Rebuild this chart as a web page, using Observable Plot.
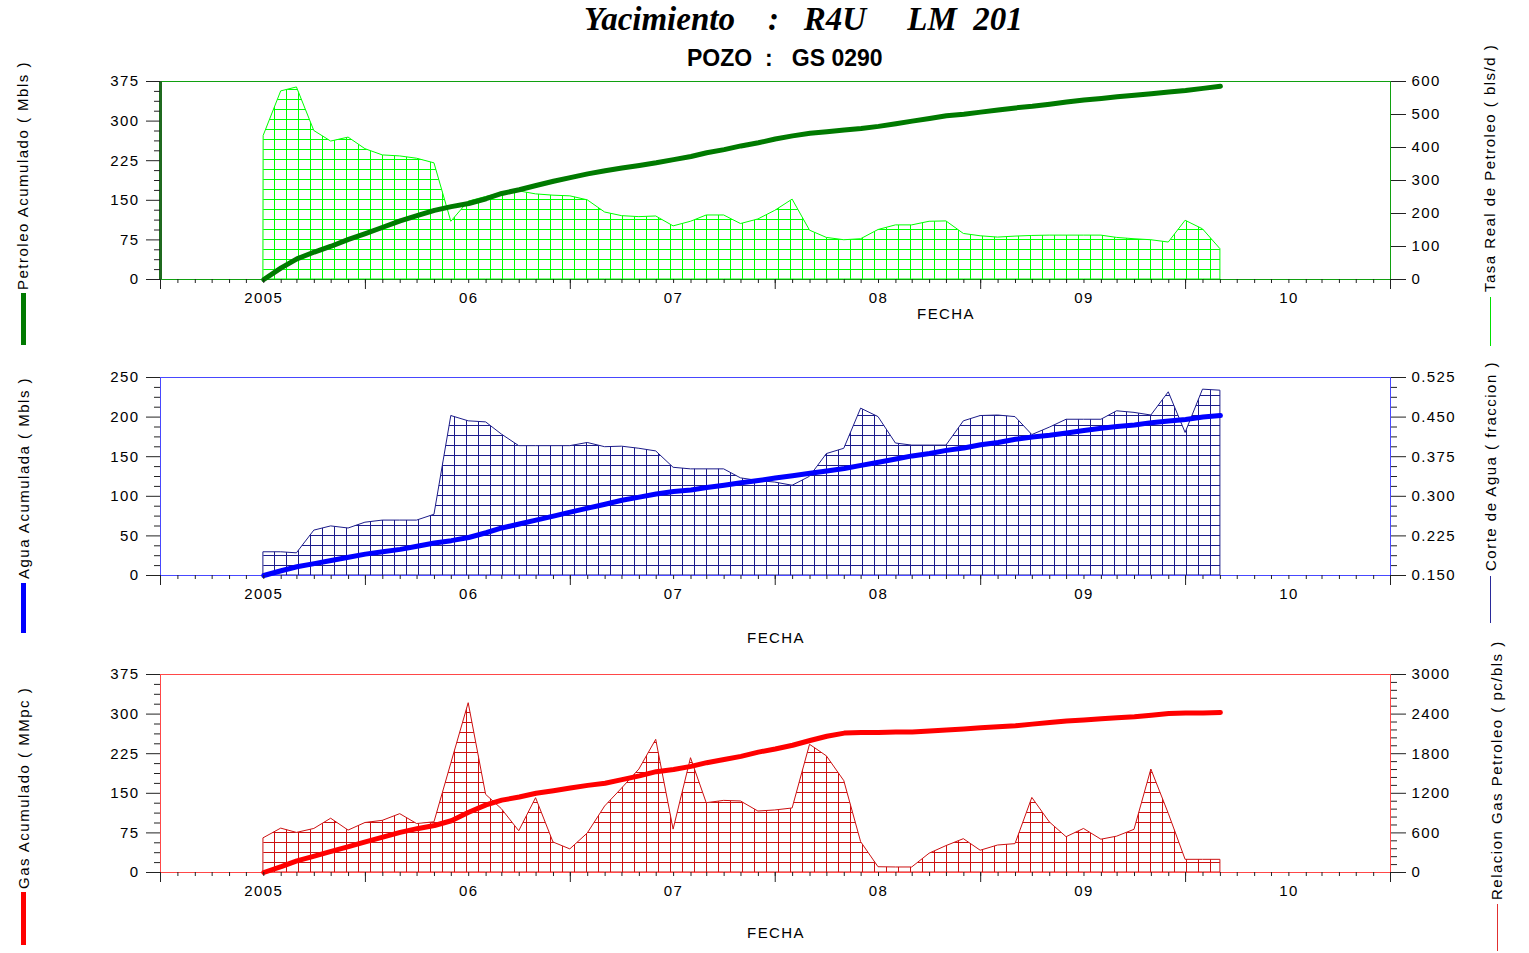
<!DOCTYPE html>
<html>
<head>
<meta charset="utf-8">
<script src="https://cdn.jsdelivr.net/npm/d3@7"></script>
<script src="https://cdn.jsdelivr.net/npm/@observablehq/plot@0.6"></script>
<style>
  body { margin: 0; background: #fff; }
  #root { position: relative; width: 1529px; height: 953px; overflow: hidden; font-family: "Liberation Sans", Arial, sans-serif; }
  .abs { position: absolute; white-space: pre; line-height: 1; }
  .rot { position: absolute; white-space: pre; transform: rotate(-90deg); transform-origin: 0 0; font-size: 15px; line-height: 16px; height: 16px; letter-spacing: 1.5px; color: #000; }
  .panel { position: absolute; left: 0; }
</style>
</head>
<body>
<div id="root"></div>
<script>
// ---------------- DATA ----------------
const titulo = "Yacimiento    :   R4U     LM  201";
const subtitulo = "POZO  :   GS 0290";
const inicio = "2005-01-01";      // first monthly value
const fin = "2009-09-01";         // last monthly value
const anios = [2005, 2006, 2007, 2008, 2009, 2010];
const etiquetasAnio = ["2005", "06", "07", "08", "09", "10"];

// Panel 1 : petroleo
const petroleoAcum = [0,22,39,52,63,76,87,99,111,121,131,138,144,153,163,170,178,186,193,200,206,211,216,221,227,233,240,246,253,259,266,272,277,280,283,286,290,295,300,305,310,313,317,321,325,328,332,336,340,343,346,349,352,355,358,362,366];
const tasaPetroleo = [436,570,582,450,418,430,395,376,373,366,352,175,236,250,261,267,258,254,252,240,203,192,189,191,161,175,194,194,168,182,208,242,148,126,119,122,150,164,164,175,176,138,131,127,130,132,133,133,133,133,126,122,119,112,178,152,92];
// Panel 2 : agua
const aguaAcum = [0,6,11,15,19,23,27,30,33,37,41,44,48,54,60,65,70,75,80,85,90,95,99,103,106,108,111,114,117,120,123,126,129,132,135,139,143,147,151,154,158,161,165,168,172,175,177,180,183,186,188,190,193,195,197,200,202];
const corteAgua = [0.194,0.194,0.192,0.235,0.243,0.239,0.250,0.254,0.254,0.254,0.265,0.452,0.442,0.440,0.417,0.395,0.395,0.395,0.395,0.401,0.393,0.394,0.390,0.385,0.354,0.351,0.351,0.351,0.334,0.329,0.326,0.320,0.337,0.380,0.390,0.466,0.450,0.400,0.396,0.396,0.396,0.442,0.452,0.453,0.450,0.416,0.430,0.445,0.445,0.445,0.461,0.458,0.453,0.497,0.420,0.502,0.500];
// Panel 3 : gas
const gasAcum = [0,11,22,31,40,49,58,67,76,83,89,98,114,128,137,143,150,155,160,165,169,176,183,191,195,201,208,214,220,228,234,241,250,258,264,265,265,266,266,268,270,272,274,276,278,281,284,287,289,291,293,295,298,301,302,302,303];
const relacionGasPetroleo = [520,665,600,660,815,635,750,783,884,735,760,1650,2565,1177,960,625,1126,455,350,590,1000,1270,1560,2010,650,1732,1050,1085,1076,924,940,970,1935,1760,1385,460,80,76,76,285,400,505,330,409,430,1130,760,535,660,497,543,647,1560,890,192,192,192];

// axis tick values
const ticksPetroleoAcum = [0, 75, 150, 225, 300, 375];
const ticksTasa = [0, 100, 200, 300, 400, 500, 600];
const ticksAguaAcum = [0, 50, 100, 150, 200, 250];
const ticksCorte = [0.150, 0.225, 0.300, 0.375, 0.450, 0.525];
const ticksGasAcum = [0, 75, 150, 225, 300, 375];
const ticksRGP = [0, 600, 1200, 1800, 2400, 3000];

// ---------------- BUILD ----------------
const root = document.getElementById("root");
const X0 = new Date(Date.UTC(2004, 6, 1)), X1 = new Date(Date.UTC(2010, 6, 1));
const fechas = d3.utcMonths(new Date(inicio + "T00:00Z"), d3.utcDay.offset(new Date(fin + "T00:00Z"), 1));
const mensual = d3.utcMonths(X0, d3.utcDay.offset(X1, 1));
const julios = d3.range(2004, 2011).map(y => new Date(Date.UTC(y, 6, 1)));
const enero = anios.map(y => new Date(Date.UTC(y, 0, 1)));
const FONT = '"Liberation Sans", Arial, sans-serif';

function minors(ticks, sub) {
  const out = [];
  for (let i = 0; i < ticks.length - 1; i++) {
    const s = (ticks[i + 1] - ticks[i]) / sub;
    for (let k = 1; k < sub; k++) out.push(ticks[i] + k * s);
  }
  return out;
}

function makePanel(cfg) {
  const data = fechas.map((d, i) => ({fecha: d, acum: cfg.acum[i], tasa: cfg.tasa[i]}));
  const toL = cfg.toLeft, fromL = cfg.fromLeft;
  const leftMax = cfg.leftTicks[cfg.leftTicks.length - 1];
  const marks = [
    Plot.areaY(data, {x: "fecha", y: d => toL(d.tasa), fill: `url(#${cfg.id})`, stroke: cfg.hatch, strokeWidth: 1}),
    Plot.frame({stroke: cfg.frame}),
  ];
  if (cfg.thickLeft) marks.push(Plot.ruleX([X0], {stroke: cfg.thickLeft, strokeWidth: 3}));
  marks.push(
    Plot.lineY(data, {x: "fecha", y: "acum", stroke: cfg.line, strokeWidth: 5}),
    Plot.axisX({ticks: mensual, anchor: "bottom", tickSize: 4, tickFormat: () => "", label: null, stroke: "#222"}),
    Plot.axisX({ticks: julios, anchor: "bottom", tickSize: 10, tickFormat: () => "", label: null, stroke: "#222"}),
    Plot.axisX({ticks: enero, anchor: "bottom", tickSize: 0, tickPadding: 13, tickFormat: (d) => etiquetasAnio[anios.indexOf(d.getUTCFullYear())], label: null, fontSize: 15, fill: "#000"}),
    Plot.axisY({ticks: minors(cfg.leftTicks, 4), anchor: "left", tickSize: 6, tickFormat: () => "", label: null, stroke: "#222"}),
    Plot.axisY({ticks: cfg.leftTicks, anchor: "left", tickSize: 14, tickPadding: 7, tickFormat: d3.format("d"), label: null, fontSize: 15, stroke: "#222", fill: "#000"}),
    Plot.axisY({ticks: cfg.rightTicks.map(toL), anchor: "right", tickSize: 15, tickPadding: 6, tickFormat: d => cfg.fmt(fromL(d)), label: null, fontSize: 15, stroke: "#222", fill: "#000"})
  );
  if (cfg.rightSub) marks.push(Plot.axisY({ticks: minors(cfg.rightTicks, cfg.rightSub).map(toL), anchor: "right", tickSize: 6, tickFormat: () => "", label: null, stroke: "#222"}));

  const svg = Plot.plot({
    width: 1529, height: 248, marginTop: 10, marginBottom: 40, marginLeft: 160, marginRight: 139,
    style: {fontFamily: FONT, fontSize: "15px", letterSpacing: "1.4px", color: "#000", background: "transparent", overflow: "visible"},
    x: {type: "utc", domain: [X0, X1], label: null},
    y: {domain: [0, leftMax], label: null},
    marks
  });
  // hatch pattern
  const ns = "http://www.w3.org/2000/svg";
  const defs = document.createElementNS(ns, "defs");
  const pat = document.createElementNS(ns, "pattern");
  pat.setAttribute("id", cfg.id);
  pat.setAttribute("patternUnits", "userSpaceOnUse");
  pat.setAttribute("x", 262); pat.setAttribute("y", 8);
  pat.setAttribute("width", 12); pat.setAttribute("height", 10);
  const p = document.createElementNS(ns, "path");
  p.setAttribute("d", "M0.5,0V10M0,0.5H12");
  p.setAttribute("stroke", cfg.hatch); p.setAttribute("stroke-width", 1); p.setAttribute("fill", "none");
  p.setAttribute("shape-rendering", "crispEdges");
  pat.appendChild(p); defs.appendChild(pat); svg.prepend(defs);

  const wrap = document.createElement("div");
  wrap.className = "panel";
  wrap.style.top = (cfg.top - 10) + "px";
  wrap.appendChild(svg);
  root.appendChild(wrap);
}

makePanel({
  id: "hatch1", top: 81, acum: petroleoAcum, tasa: tasaPetroleo,
  leftTicks: ticksPetroleoAcum, rightTicks: ticksTasa, rightSub: 0,
  toLeft: v => v * 375 / 600, fromLeft: v => v * 600 / 375, fmt: v => String(Math.round(v)),
  hatch: "#00ff00", frame: "#10a010", line: "#007a00", thickLeft: "#1f6a1f"
});
makePanel({
  id: "hatch2", top: 377, acum: aguaAcum, tasa: corteAgua,
  leftTicks: ticksAguaAcum, rightTicks: ticksCorte, rightSub: 4,
  toLeft: v => (v - 0.15) / 0.375 * 250, fromLeft: v => 0.15 + v / 250 * 0.375, fmt: d3.format(".3f"),
  hatch: "#1c1c8a", frame: "#4848ff", line: "#0000ff"
});
makePanel({
  id: "hatch3", top: 674, acum: gasAcum, tasa: relacionGasPetroleo,
  leftTicks: ticksGasAcum, rightTicks: ticksRGP, rightSub: 5,
  toLeft: v => v * 375 / 3000, fromLeft: v => v * 3000 / 375, fmt: v => String(Math.round(v)),
  hatch: "#cc1010", frame: "#ff4848", line: "#ff0000"
});

// ---------------- TEXTS ----------------
function addText(txt, css) {
  const d = document.createElement("div");
  d.className = "abs"; d.textContent = txt;
  Object.assign(d.style, css);
  root.appendChild(d);
  return d;
}
addText(titulo, {left: "584px", top: "3px", fontFamily: '"Liberation Serif", "Times New Roman", serif', fontWeight: "bold", fontStyle: "italic", fontSize: "33px"});
addText(subtitulo, {left: "687px", top: "47px", fontFamily: FONT, fontWeight: "bold", fontSize: "23px"});

function centerText(txt, cx, cy) {
  addText(txt, {left: cx + "px", top: cy + "px", transform: "translate(-50%,-50%)", fontSize: "15px", letterSpacing: "1.4px"});
}
centerText("FECHA", 946, 313);
centerText("FECHA", 776, 637);
centerText("FECHA", 776, 932);

function rotLabel(txt, cx, yBottom) {
  const d = document.createElement("div");
  d.className = "rot"; d.textContent = txt;
  d.style.left = (cx - 8) + "px"; d.style.top = yBottom + "px";
  root.appendChild(d);
}
function bar(x, y1, y2, w, color) {
  const d = document.createElement("div");
  Object.assign(d.style, {position: "absolute", left: x + "px", top: y1 + "px", width: w + "px", height: (y2 - y1) + "px", background: color});
  root.appendChild(d);
}
rotLabel("Petroleo Acumulado ( Mbls )", 23, 290); bar(21, 293, 345, 5, "#007a00");
rotLabel("Agua Acumulada ( Mbls )", 24, 579);     bar(21, 583, 633, 5, "#0000ff");
rotLabel("Gas Acumulado ( MMpc )", 24, 889);      bar(21, 892, 945, 5, "#ff0000");
rotLabel("Tasa Real de Petroleo ( bls/d )", 1490, 292); bar(1490, 297, 346, 1, "#00e000");
rotLabel("Corte de Agua ( fraccion )", 1491, 571);      bar(1490, 576, 623, 1, "#2a2a9a");
rotLabel("Relacion Gas Petroleo ( pc/bls )", 1497, 900); bar(1497, 904, 951, 1, "#e03030");
</script>
</body>
</html>
